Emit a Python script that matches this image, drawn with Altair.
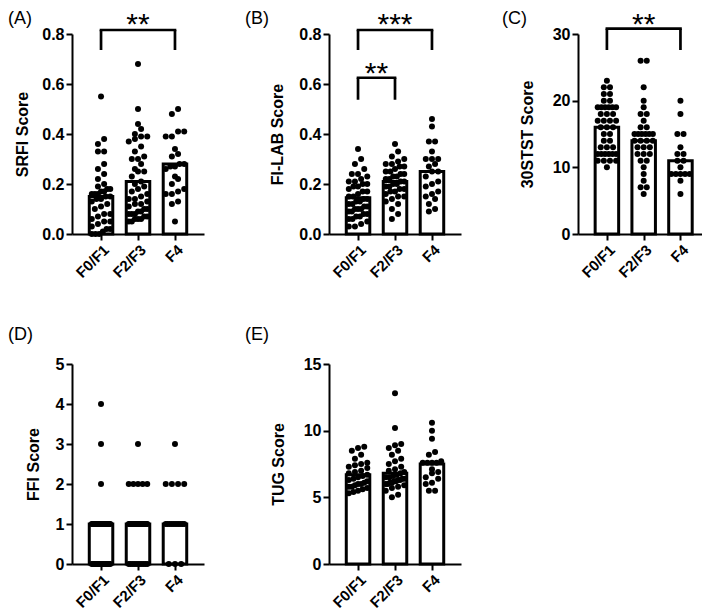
import json
import pandas as pd
import altair as alt

FONT = "Liberation Sans"
CATS = ["F0/F1", "F2/F3", "F4"]

# ---------------- data ----------------
SRFI_F0F1 = [0.55, 0.38, 0.36, 0.33, 0.33, 0.28, 0.26, 0.24, 0.22, 0.20, 0.19, 0.18, 0.18, 0.17,
             0.17, 0.16, 0.16, 0.16, 0.15, 0.15, 0.14, 0.14, 0.13, 0.12, 0.11, 0.10, 0.08, 0.08,
             0.07, 0.06, 0.05, 0.05, 0.04, 0.03, 0.02, 0.02, 0.01, 0.00, 0.00, 0.00]
SRFI_F2F3 = [0.68, 0.50, 0.44, 0.42, 0.40, 0.39, 0.39, 0.38, 0.37, 0.35, 0.33, 0.31, 0.30, 0.30,
             0.28, 0.26, 0.25, 0.25, 0.23, 0.21, 0.20, 0.19, 0.18, 0.17, 0.16, 0.15, 0.14, 0.14,
             0.13, 0.12, 0.12, 0.11, 0.10, 0.10, 0.09, 0.09, 0.08, 0.08, 0.08, 0.07, 0.07, 0.06,
             0.06, 0.06, 0.05, 0.05]
SRFI_F4 = [0.50, 0.48, 0.41, 0.41, 0.39, 0.39, 0.34, 0.32, 0.31, 0.28, 0.28, 0.27, 0.27, 0.26,
           0.23, 0.22, 0.20, 0.18, 0.17, 0.16, 0.16, 0.13, 0.12, 0.05]
SRFI_BARS = [0.15, 0.21, 0.28]

FILAB_F0F1 = [0.34, 0.30, 0.28, 0.26, 0.24, 0.24, 0.23, 0.22, 0.21, 0.21, 0.20, 0.20, 0.19, 0.19,
              0.18, 0.17, 0.17, 0.16, 0.15, 0.15, 0.14, 0.14, 0.13, 0.13, 0.12, 0.12, 0.11, 0.11,
              0.10, 0.10, 0.10, 0.09, 0.09, 0.08, 0.08, 0.07, 0.07, 0.06, 0.06, 0.05, 0.04, 0.03,
              0.03]
FILAB_F2F3 = [0.36, 0.33, 0.31, 0.30, 0.29, 0.28, 0.28, 0.27, 0.27, 0.26, 0.25, 0.25, 0.24, 0.24,
              0.23, 0.23, 0.22, 0.22, 0.21, 0.21, 0.20, 0.20, 0.19, 0.19, 0.18, 0.18, 0.17, 0.17,
              0.16, 0.15, 0.15, 0.14, 0.13, 0.12, 0.10, 0.08, 0.06]
FILAB_F4 = [0.46, 0.43, 0.37, 0.37, 0.33, 0.30, 0.30, 0.30, 0.28, 0.27, 0.25, 0.25, 0.23, 0.21,
            0.20, 0.19, 0.17, 0.16, 0.15, 0.14, 0.12, 0.10, 0.09]
FILAB_BARS = [0.145, 0.21, 0.25]

STST_F0F1 = [23, 22, 22, 21, 21, 20, 20, 19, 19, 19, 19, 19, 19, 18, 18, 18, 17, 17, 17, 17,
             16, 16, 16, 15, 15, 14, 14, 13, 13, 13, 12, 12, 12, 12, 12, 12, 11, 11, 11, 11, 10]
STST_F2F3 = [26, 26, 22, 20, 19, 18, 18, 17, 16, 16, 15, 15, 15, 15, 15, 15, 14, 14, 14, 14,
             13, 13, 13, 12, 12, 12, 11, 11, 10, 9, 8, 7, 7, 6]
STST_F4 = [20, 18, 15, 15, 13, 12, 12, 11, 11, 10, 9, 9, 9, 9, 9, 8, 6]
STST_BARS = [16, 14, 11]

FFI_F0F1 = [4, 3, 2, 1, 1, 1, 1, 1, 1, 1, 1, 1, 1, 1, 1, 1, 1, 1, 1, 1, 1, 1, 1, 1, 1,
            0, 0, 0, 0, 0, 0, 0, 0, 0, 0, 0, 0, 0, 0, 0]
FFI_F2F3 = [3, 2, 2, 2, 2, 2, 1, 1, 1, 1, 1, 1, 1, 1, 1, 1, 1, 1, 1, 1, 1, 1, 1, 1, 1, 1,
            1, 1, 0, 0, 0, 0, 0, 0, 0, 0, 0, 0]
FFI_F4 = [3, 2, 2, 2, 2, 1, 1, 1, 1, 1, 1, 1, 1, 1, 1, 0, 0, 0]
FFI_BARS = [1, 1, 1]

TUG_F0F1 = [8.8, 8.7, 8.5, 8.2, 7.9, 7.6, 7.5, 7.4, 7.3, 7.2, 7.0, 6.9, 6.8, 6.7, 6.6, 6.5,
            6.4, 6.3, 6.2, 6.1, 6.0, 6.0, 5.9, 5.8, 5.8, 5.7, 5.6, 5.5, 5.4, 5.3]
TUG_F2F3 = [12.8, 10.2, 9.0, 8.9, 8.7, 8.5, 8.2, 7.9, 7.7, 7.5, 7.3, 7.1, 7.0, 6.9, 6.8, 6.7,
            6.6, 6.5, 6.5, 6.4, 6.4, 6.3, 6.3, 6.2, 6.2, 6.1, 6.1, 6.0, 6.0, 5.9, 5.8, 5.7,
            5.5, 5.2, 5.0]
TUG_F4 = [10.6, 10.0, 9.4, 8.4, 8.2, 7.7, 7.6, 7.6, 7.6, 7.6, 7.1, 6.9, 6.8, 6.5, 6.4, 6.1,
          6.0, 5.5, 5.5]
TUG_BARS = [6.7, 6.8, 7.5]

# significance brackets: left group, right group, bar height, leg end, stars, star baseline
SRFI_SIG = [(0, 2, 0.816, 0.736, "**", 0.800)]
FILAB_SIG = [(0, 2, 0.816, 0.736, "***", 0.800), (0, 1, 0.625, 0.537, "**", 0.605)]
STST_SIG = [(0, 2, 30.8, 27.6, "**", 30.0)]

# ---------------- layout helpers ----------------
H = 200
STEP = 40.0          # px per category
DOT = 6.7            # dot diameter in px
MAXSPAN = 20.0       # max horizontal spread of dot centres in a row


def swarm_offsets(values, ymax):
    """Deterministic GraphPad-like row layout of dots (px offsets)."""
    ypx = [v / ymax * H for v in values]
    order = sorted(range(len(values)), key=lambda i: values[i])
    offs = [0.0] * len(values)
    rows, cur, start = [], [], None
    for i in order:
        if cur and ypx[i] - start < 0.9 * DOT:
            cur.append(i)
        else:
            if cur:
                rows.append(cur)
            cur, start = [i], ypx[i]
    if cur:
        rows.append(cur)
    for r in rows:
        k = len(r)
        if k == 1:
            continue
        sp = min(DOT, MAXSPAN / (k - 1))
        for j, i in enumerate(r):
            offs[i] = (j - (k - 1) / 2) * sp
    return offs


def panel(label, ytitle, groups, bars, ymax, yticks, yfmt, sig, label_dx, label_dy,
          title_x, width=132):
    xmax = -0.65 + width / STEP
    pts = []
    for gi, vals in enumerate(groups):
        for v, o in zip(vals, swarm_offsets(vals, ymax)):
            pts.append({"pos": gi + o / STEP, "value": v})
    pts = pd.DataFrame(pts)
    bar_df = pd.DataFrame({"pos": [0, 1, 2], "value": bars})

    xscale = alt.Scale(domain=[-0.65, xmax], nice=False, zero=False)
    yscale = alt.Scale(domain=[0, ymax], nice=False)
    xaxis = alt.Axis(values=[0, 1, 2], labelExpr=json.dumps(CATS) + "[datum.value]",
                     labelAngle=-45, title=None, labelOverlap=False, grid=False)
    yaxis = alt.Axis(values=yticks, format=yfmt, title=ytitle, titleX=title_x, titleY=H / 2,
                     titleAngle=-90, titleAlign="center", titleBaseline="alphabetic",
                     labelOverlap=False, grid=False)
    x = alt.X("pos:Q", scale=xscale, axis=xaxis)
    y = alt.Y("value:Q", scale=yscale, axis=yaxis)

    bar = alt.Chart(bar_df).mark_bar(size=23.5, fill="white", stroke="black",
                                     strokeWidth=3).encode(x=x, y=y)
    dots = alt.Chart(pts).mark_circle(size=36, color="black", opacity=1).encode(x=x, y=y)
    layers = [bar, dots]

    if sig:
        top = pd.DataFrame([{"pos": a, "pos2": b, "value": t} for a, b, t, _, _, _ in sig])
        legs = pd.DataFrame([{"pos": p, "value": t, "value2": lo}
                             for a, b, t, lo, _, _ in sig for p in (a, b)])
        stars = pd.DataFrame([{"pos": (a + b) / 2, "value": ty, "s": s}
                              for a, b, _, _, s, ty in sig])
        layers.append(alt.Chart(top).mark_rule(color="black", strokeWidth=2.7,
                                               strokeCap="square").encode(
            x=x, x2="pos2:Q", y=y))
        layers.append(alt.Chart(legs).mark_rule(color="black", strokeWidth=2.7).encode(
            x=x, y=y, y2="value2:Q"))
        layers.append(alt.Chart(stars).mark_text(font=FONT, fontSize=30, color="black",
                                                 baseline="alphabetic").encode(
            x=x, y=y, text="s:N"))

    lab = alt.Chart(pd.DataFrame({"t": [label]})).mark_text(
        font=FONT, fontSize=18, color="black", align="left", baseline="top").encode(
        text="t:N", x=alt.value(label_dx), y=alt.value(label_dy))
    layers.append(lab)
    return alt.layer(*layers).properties(width=width, height=H)


pA = panel("(A)", "SRFI Score", [SRFI_F0F1, SRFI_F2F3, SRFI_F4], SRFI_BARS, 0.8,
           [0, 0.2, 0.4, 0.6, 0.8], ".1f", SRFI_SIG, -64, -24, -45)
pB = panel("(B)", "FI-LAB Score", [FILAB_F0F1, FILAB_F2F3, FILAB_F4], FILAB_BARS, 0.8,
           [0, 0.2, 0.4, 0.6, 0.8], ".1f", FILAB_SIG, -84, -24, -47)
pC = panel("(C)", "30STST Score", [STST_F0F1, STST_F2F3, STST_F4], STST_BARS, 30,
           [0, 10, 20, 30], "d", STST_SIG, -76, -24, -46, width=124)
pD = panel("(D)", "FFI Score", [FFI_F0F1, FFI_F2F3, FFI_F4], FFI_BARS, 5,
           [0, 1, 2, 3, 4, 5], "d", None, -64, -38, -34)
pE = panel("(E)", "TUG Score", [TUG_F0F1, TUG_F2F3, TUG_F4], TUG_BARS, 15,
           [0, 5, 10, 15], "d", None, -84, -38, -46)

row1 = alt.hconcat(pA, pB, pC, spacing=41)
row2 = alt.hconcat(pD, pE, spacing=41)

chart = (
    alt.vconcat(row1, row2, spacing=45)
    .properties(padding={"top": 2, "left": 0, "right": 0, "bottom": 0}, background="white")
    .configure_view(stroke=None)
    .configure_axis(domainColor="black", domainWidth=2, tickColor="black", tickWidth=2,
                    tickSize=6, labelColor="black", labelFont=FONT, labelFontWeight="bold",
                    labelFontSize=16, labelPadding=2, titleFont=FONT, titleFontWeight="bold",
                    titleFontSize=16, titleColor="black", grid=False)
    .configure_axisX(labelFontSize=15)
)

chart.save("out.html", embed_options={"renderer": "svg", "actions": False})
